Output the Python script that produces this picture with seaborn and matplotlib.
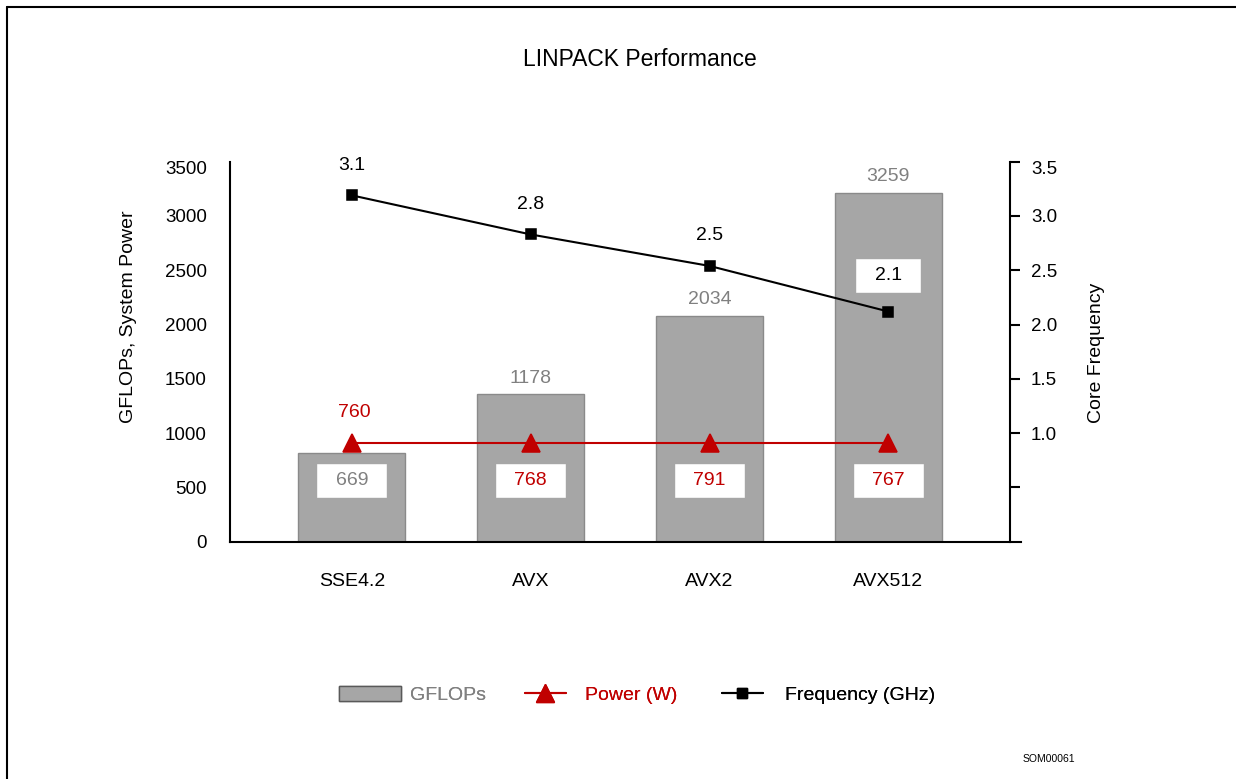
import matplotlib
matplotlib.use("Agg")
import numpy as np
import pandas as pd
import seaborn as sns
import matplotlib.pyplot as plt
import matplotlib.transforms as mtransforms
from matplotlib.patches import Patch
from matplotlib.lines import Line2D
from matplotlib.path import Path

# ---------------- data ----------------
categories = ["SSE4.2", "AVX", "AVX2", "AVX512"]
gflops_drawn = [814, 1360, 2080, 3215]          # bar heights as drawn
gflops_labels = ["669", "1178", "2034", "3259"]
power_drawn = [905, 905, 905, 905]              # power line as drawn (left axis)
power_labels = ["760", "768", "791", "767"]
freq_drawn = [3.19, 2.83, 2.54, 2.12]           # frequency line as drawn (right axis)
freq_labels = ["3.1", "2.8", "2.5", "2.1"]
left_ticks = [0, 500, 1000, 1500, 2000, 2500, 3000, 3500]
right_ticks = [0.5, 1.0, 1.5, 2.0, 2.5, 3.0, 3.5]
right_tick_labels = ["", "1.0", "1.5", "2.0", "2.5", "3.0", "3.5"]

BAR = "#A6A6A6"
BAR_EDGE = "#8A8A8A"
GREY_TXT = "#808080"
RED = "#C00000"

sns.set_theme(style="white")
plt.rcParams["font.family"] = ["Liberation Sans", "DejaVu Sans"]
plt.rcParams["text.color"] = "black"
plt.rcParams["axes.labelcolor"] = "black"
plt.rcParams["xtick.color"] = "black"
plt.rcParams["ytick.color"] = "black"

W, H, DPI = 1236, 779, 100
fig = plt.figure(figsize=(W / DPI, H / DPI), dpi=DPI)
fig.patch.set_facecolor("white")


def pt(pixels):
    return pixels * 72.0 / DPI


def wide_box(x0, y0, width, height, mutation_size):
    padx = 1.0 * mutation_size
    pady = 0.47 * mutation_size
    xa, ya = x0 - padx, y0 - pady
    xb, yb = x0 + width + padx, y0 + height + pady
    verts = [(xa, ya), (xb, ya), (xb, yb), (xa, yb), (xa, ya)]
    codes = [Path.MOVETO, Path.LINETO, Path.LINETO, Path.LINETO, Path.CLOSEPOLY]
    return Path(verts, codes)


df = pd.DataFrame({"cat": categories, "gflops": gflops_drawn,
                   "power": power_drawn, "freq": freq_drawn})

ax = fig.add_axes([230 / W, 1 - 541.7 / H, 780 / W, 380 / H])
ax.patch.set_alpha(0)

sns.barplot(data=df, x="cat", y="gflops", ax=ax, color=BAR, saturation=1,
            width=0.6, edgecolor=BAR_EDGE, linewidth=1, zorder=2)
sns.pointplot(data=df, x="cat", y="power", ax=ax, color=RED, markers="^",
              linestyles="-", markersize=13, linewidth=1.5, errorbar=None)

ax2 = ax.twinx()
sns.pointplot(data=df, x="cat", y="freq", ax=ax2, color="black", markers="s",
              linestyles="-", markersize=7, linewidth=1.5, errorbar=None)

ax.set_ylim(0, 3500)
ax2.set_ylim(0, 3.5)
ax.set_xlim(-0.681, 3.680)
ax.set_xlabel("")
ax2.set_xlabel("")

# spines
for s in ["top", "right"]:
    ax.spines[s].set_visible(False)
for s in ["left", "bottom"]:
    ax.spines[s].set_color("black")
    ax.spines[s].set_linewidth(1.5)
ax.spines["bottom"].set_bounds(-0.681, 3.742)
for s in ["top", "left", "bottom"]:
    ax2.spines[s].set_visible(False)
ax2.spines["right"].set_color("black")
ax2.spines["right"].set_linewidth(1.5)

ax.set_yticks(left_ticks)
ax.set_yticklabels([str(t) for t in left_ticks])
ax.tick_params(axis="y", length=0, pad=pt(23), labelsize=13.5)
ax.tick_params(axis="x", length=0, pad=pt(31), labelsize=14)
ax2.set_yticks(right_ticks)
ax2.set_yticklabels(right_tick_labels)
ax2.tick_params(axis="y", right=True, length=pt(10), width=1.5, direction="out",
                pad=pt(11), labelsize=13.5)

ax.set_ylabel("GFLOPs, System Power", fontsize=14)
ax.yaxis.label.set_va("center")
ax.yaxis.set_label_coords(-0.1295, 0.5926)
ax2.set_ylabel("Core Frequency", fontsize=14, rotation=90)
ax2.yaxis.label.set_va("center")
ax2.yaxis.set_label_coords(1.1115, 0.4966)

box_kw = dict(boxstyle=wide_box, facecolor="white", edgecolor=BAR, linewidth=1)
n = len(categories)
for i in range(n):
    # GFLOPs labels
    if i == 0:
        ax.annotate(gflops_labels[i], xy=(i, power_drawn[i]), xytext=(0, -pt(37)),
                    textcoords="offset points", ha="center", va="center",
                    fontsize=14, color=GREY_TXT, bbox=box_kw, zorder=6)
    else:
        ax.annotate(gflops_labels[i], xy=(i, gflops_drawn[i]), xytext=(0, pt(16)),
                    textcoords="offset points", ha="center", va="center",
                    fontsize=14, color=GREY_TXT, zorder=6)
    # power labels
    if i == 0:
        ax.annotate(power_labels[i], xy=(i, power_drawn[i]), xytext=(pt(3), pt(31)),
                    textcoords="offset points", ha="center", va="center",
                    fontsize=14, color=RED, zorder=6)
    else:
        ax.annotate(power_labels[i], xy=(i, power_drawn[i]), xytext=(0, -pt(37)),
                    textcoords="offset points", ha="center", va="center",
                    fontsize=14, color=RED, bbox=box_kw, zorder=6)
    # frequency labels
    if i == n - 1:
        ax2.annotate(freq_labels[i], xy=(i, freq_drawn[i]), xytext=(0, pt(36)),
                     textcoords="offset points", ha="center", va="center",
                     fontsize=14, color="black", bbox=box_kw, zorder=6)
    else:
        ax2.annotate(freq_labels[i], xy=(i, freq_drawn[i]), xytext=(0, pt(30)),
                     textcoords="offset points", ha="center", va="center",
                     fontsize=14, color="black", zorder=6)

# title and footnote
fig.text(639.5 / W, 1 - 59 / H, "LINPACK Performance", fontsize=16.5,
         ha="center", va="center")
fig.text(1049 / W, 1 - 759 / H, "SOM00061", fontsize=7.5, ha="center", va="center")

# legend: three single-entry legends
leg_y = 1 - 695 / H
h1 = Patch(facecolor=BAR, edgecolor="#595959", linewidth=1)
h2 = Line2D([], [], color=RED, marker="^", markersize=13, linewidth=1.5)
h3 = Line2D([], [], color="black", marker="s", markersize=7, linewidth=1.5)
for h, lab, col, x0, hl, tp in [
    (h1, "GFLOPs", GREY_TXT, 339, 3.2, 0.46),
    (h2, "Power (W)", RED, 525, 2.1, 0.98),
    (h3, "Frequency (GHz)", "black", 722, 2.1, 1.13),
]:
    lg = fig.legend(handles=[h], labels=[lab], loc="center left",
                    bbox_to_anchor=(x0 / W, leg_y), frameon=False, fontsize=14,
                    handlelength=hl, handleheight=0.87, handletextpad=tp,
                    borderpad=0, borderaxespad=0)
    for t in lg.get_texts():
        t.set_color(col)
    fig.add_artist(lg)

# frame lines (top and left)
fig.add_artist(Line2D([7 / W, 7 / W], [0, 1 - 7 / H], transform=fig.transFigure,
                      color="black", linewidth=1.5))
fig.add_artist(Line2D([7 / W, 1], [1 - 7 / H, 1 - 7 / H], transform=fig.transFigure,
                      color="black", linewidth=1.5))

ax.set_xlim(-0.681, 3.680)

# shift the top tick labels slightly down like the reference
off = mtransforms.ScaledTranslation(0, -0.06, fig.dpi_scale_trans)
for axis_obj, top in [(ax.yaxis, 3500), (ax2.yaxis, 3.5)]:
    for tick in axis_obj.get_major_ticks():
        if abs(tick.get_loc() - top) < 1e-9:
            tick.label1.set_transform(tick.label1.get_transform() + off)
            tick.label2.set_transform(tick.label2.get_transform() + off)

fig.savefig("out.png", dpi=DPI, facecolor="white")
